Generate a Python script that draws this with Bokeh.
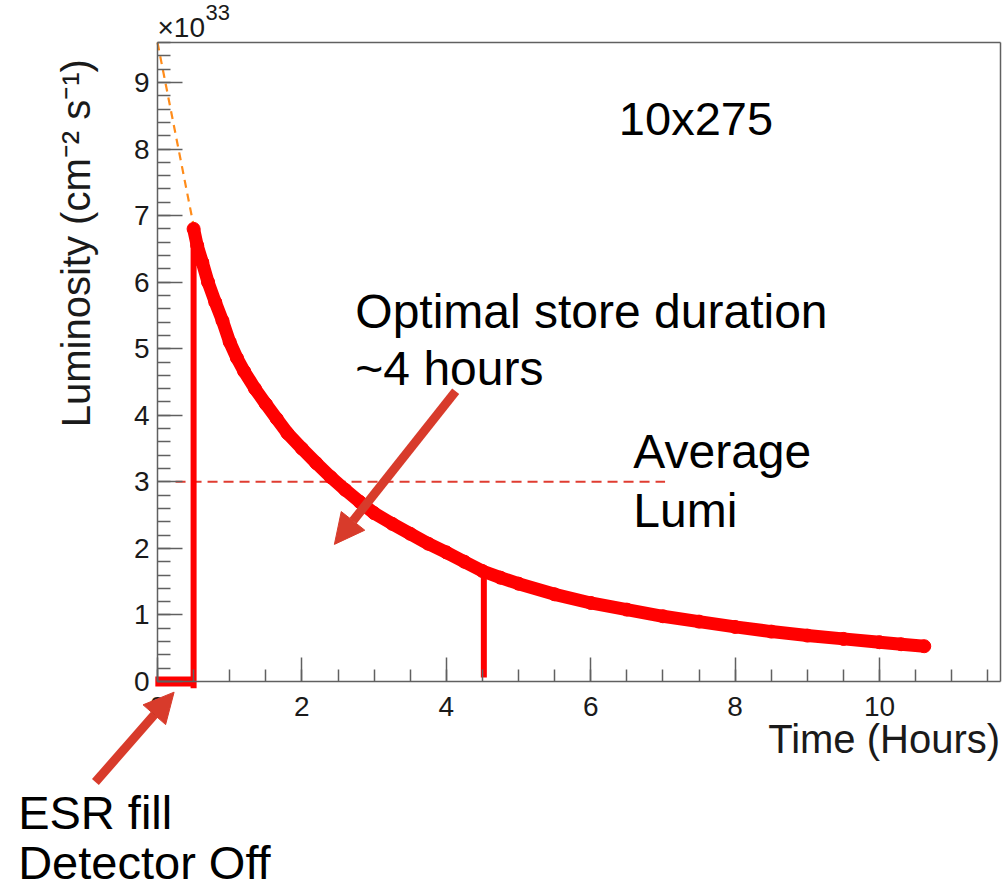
import math
from bokeh.plotting import figure
from bokeh.models import (Range1d, SingleIntervalTicker, FixedTicker, Label, Arrow,
                          NormalHead, ColumnDataSource, LinearAxis)
from bokeh.embed import file_html
from bokeh.resources import INLINE

# ---- data (time in hours, luminosity in 1e33 cm^-2 s^-1)
time_h = [0.50, 0.55, 0.62, 0.70, 0.80, 0.90, 1.00, 1.10, 1.20, 1.35, 1.50, 1.65,
          1.80, 2.00, 2.20, 2.40, 2.60, 2.80, 3.00, 3.25, 3.50, 3.75, 4.00, 4.25,
          4.50, 4.75, 5.00, 5.50, 6.00, 6.50, 7.00, 7.50, 8.00, 8.50, 9.00, 9.50,
          10.00, 10.30, 10.62]
lumi = [6.80, 6.55, 6.30, 6.00, 5.70, 5.42, 5.10, 4.86, 4.66, 4.40, 4.17, 3.95,
        3.73, 3.50, 3.28, 3.07, 2.88, 2.70, 2.53, 2.37, 2.22, 2.07, 1.94, 1.80,
        1.66, 1.56, 1.47, 1.31, 1.18, 1.08, 0.98, 0.90, 0.82, 0.75, 0.69, 0.64,
        0.59, 0.56, 0.53]

fill_t = [-0.03, 0.5]        # ESR fill, detector off
fill_L = [0.0, 0.0]
start_t = [0.5, 0.5]         # start of store
start_L = [-0.1, 6.8]
end_t = [4.52, 4.52]         # optimal end of store
end_L = [0.06, 1.58]
avg_t = [0.25, 7.03]         # average lumi
avg_L = [3.0, 3.0]
extrap_t = [0.0, 0.5]        # extrapolation to t=0
extrap_L = [9.6, 6.85]

x_axis_max = 11.67
y_axis_max = 9.6
x_tick_step = 2
y_tick_step = 1

FONT = "Liberation Sans"
AXC = "#606060"
RED = "#ff0000"
ARROWC = "#d83b2b"

W, H = 1004, 892
X0, XS = 157.0, 72.2      # pixel of t=0, pixels per hour
Y0, YS = 681.0, 66.56     # pixel of L=0, pixels per unit
DY = 17.0 / YS            # baseline correction for labels
DX = 17.0 / XS
p = figure(width=W, height=H, output_backend="svg", toolbar_location=None,
           x_range=Range1d(-X0 / XS, (W - X0) / XS),
           y_range=Range1d(-(H - Y0) / YS, Y0 / YS),
           x_axis_type=None, y_axis_type=None,
           min_border=0, min_border_left=0, min_border_right=0,
           min_border_top=0, min_border_bottom=0)
p.grid.visible = False
p.background_fill_color = "white"
p.border_fill_color = "white"
p.outline_line_color = None


def style_axis(ax):
    ax.axis_line_color = AXC
    ax.axis_line_width = 1.5
    ax.major_tick_line_color = AXC
    ax.minor_tick_line_color = AXC
    ax.major_tick_line_width = 1.5
    ax.minor_tick_line_width = 1.5
    ax.major_tick_out = 0
    ax.minor_tick_out = 0
    ax.major_label_text_font = FONT
    ax.major_label_text_font_size = "28px"
    ax.major_label_text_color = "#1a1a1a"


xax = LinearAxis(ticker=SingleIntervalTicker(interval=x_tick_step, num_minor_ticks=4),
                 fixed_location=0, bounds=(0, x_axis_max))
style_axis(xax)
xax.major_tick_in = 24
xax.minor_tick_in = 12
xax.major_label_standoff = 15
p.add_layout(xax, "below")

yax = LinearAxis(ticker=SingleIntervalTicker(interval=y_tick_step, num_minor_ticks=5),
                 fixed_location=0, bounds=(0, y_axis_max))
style_axis(yax)
yax.major_tick_in = 25
yax.minor_tick_in = 13
yax.major_label_standoff = 8
p.add_layout(yax, "left")

# frame top and right edges
tax = LinearAxis(ticker=FixedTicker(ticks=[]), fixed_location=y_axis_max,
                 bounds=(0, x_axis_max))
style_axis(tax)
p.add_layout(tax, "above")
rax = LinearAxis(ticker=FixedTicker(ticks=[]), fixed_location=x_axis_max,
                 bounds=(0, y_axis_max))
style_axis(rax)
p.add_layout(rax, "right")

# extrapolation (orange dashed)
p.line(extrap_t, extrap_L, line_color="#ff8c1a", line_width=2.2, line_dash="8 6")
# average lumi
p.line(avg_t, avg_L, line_color="#e03c31", line_width=2, line_dash="10 6")
# fill period, store start and end
p.line(fill_t, fill_L, line_color=RED, line_width=10)
p.line(start_t, start_L, line_color=RED, line_width=6)
p.line(end_t, end_L, line_color=RED, line_width=6)
# luminosity decay
src = ColumnDataSource(dict(t=time_h, L=lumi))
p.line("t", "L", source=src, line_color=RED, line_width=13)
p.scatter("t", "L", source=src, size=13, fill_color=RED, line_color=RED)

# arrows
p.add_layout(Arrow(x_start=4.13, y_start=4.36, x_end=2.45, y_end=2.06,
                   line_color=ARROWC, line_width=9,
                   end=NormalHead(size=30, fill_color=ARROWC, line_color=ARROWC)))
p.add_layout(Arrow(x_start=-0.86, y_start=-1.51, x_end=0.23, y_end=-0.16,
                   line_color=ARROWC, line_width=9,
                   end=NormalHead(size=30, fill_color=ARROWC, line_color=ARROWC)))


def lab(x, y, text, size, align="left", angle=0.0, color="black"):
    p.add_layout(Label(x=x, y=y, text=text, text_font=FONT, text_font_size=size,
                       text_align=align, text_baseline="alphabetic", angle=angle,
                       text_color=color))


lab(6.39, 8.20 + DY, "10x275", "47px")
lab(2.74, 5.30 + DY, "Optimal store duration", "48px")
lab(2.74, 4.44 + DY, "~4 hours", "48px")
lab(6.59, 3.20 + DY, "Average", "48px")
lab(6.59, 2.32 + DY, "Lumi", "48px")
lab(-1.93, -2.22 + DY, "ESR fill", "47px")
lab(-1.93, -2.98 + DY, "Detector Off", "47px")
lab(x_axis_max, -1.12 + DY, "Time (Hours)", "40px", align="right", color="#1a1a1a")
lab(-0.90 - DX, 3.82, "Luminosity (cm\u207b\u00b2 s\u207b\u00b9)", "40px",
    angle=math.pi / 2, color="#1a1a1a")
lab(0.0, 9.67 + DY * 0.6, "\u00d710", "28px", color="#1a1a1a")
lab(0.665, 9.90 + DY * 0.6, "33", "22px", color="#1a1a1a")

open("out.html", "w").write(file_html(p, INLINE))
